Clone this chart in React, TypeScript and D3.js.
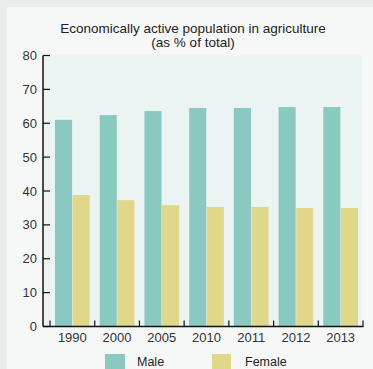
import React from "react";
import * as d3 from "d3";

const categories = ["1990", "2000", "2005", "2010", "2011", "2012", "2013"];
const maleValues = [61.0, 62.4, 63.6, 64.5, 64.5, 64.8, 64.8];
const femaleValues = [38.8, 37.3, 35.8, 35.3, 35.3, 35.0, 35.0];
const yTicks = [0, 10, 20, 30, 40, 50, 60, 70, 80];
const seriesNames = ["Male", "Female"];
const titleLines = ["Economically active population in agriculture", "(as % of total)"];

const W = 373;
const H = 369;
const COLORS = { male: "#89c9bf", female: "#e0d78a" };
const FONT = "'Liberation Sans', Arial, Helvetica, sans-serif";

export default function App() {
  const axisX = 43;
  const x0 = d3.scaleBand<string>().domain(categories).range([50, 363]).paddingInner(0).paddingOuter(0);
  const y = d3.scaleLinear().domain([0, 80]).range([326.5, 55.5]);
  const bw = x0.bandwidth();
  const inner = d3.scaleBand<string>().domain(seriesNames).range([5, bw - 5]).paddingInner(0.03);

  return (
    <svg width={W} height={H} style={{ position: "fixed", left: 0, top: 0, display: "block" }}>
      <rect x={0} y={0} width={W} height={H} fill="#eaeceb" />
      <rect x={7} y={7} width={W - 7} height={H - 7} fill="#f6f8f7" />
      {titleLines.map((t, i) => (
        <text key={i} x={193} y={32.5 + i * 14} textAnchor="middle" fontFamily={FONT} fontSize={13.5} fill="#222">
          {t}
        </text>
      ))}
      <rect x={axisX} y={y(80)} width={362 - axisX} height={y(0) - y(80)} fill="#ebf4f3" />
      {categories.map((c, i) => (
        <g key={c}>
          <rect
            x={(x0(c) as number) + (inner("Male") as number)}
            y={y(maleValues[i])}
            width={inner.bandwidth()}
            height={y(0) - y(maleValues[i])}
            fill={COLORS.male}
          />
          <rect
            x={(x0(c) as number) + (inner("Female") as number)}
            y={y(femaleValues[i])}
            width={inner.bandwidth()}
            height={y(0) - y(femaleValues[i])}
            fill={COLORS.female}
          />
          <text
            x={(x0(c) as number) + bw / 2}
            y={342}
            textAnchor="middle"
            fontFamily={FONT}
            fontSize={13}
            fill="#333"
          >
            {c}
          </text>
        </g>
      ))}
      {/* y axis */}
      <line x1={axisX} x2={axisX} y1={y(80)} y2={y(0)} stroke="#111" strokeWidth={1.5} />
      {yTicks.map((t) => (
        <g key={t}>
          <line x1={axisX} x2={axisX + 7} y1={y(t)} y2={y(t)} stroke="#111" strokeWidth={1.2} />
          <text x={37} y={y(t) + 4.5} textAnchor="end" fontFamily={FONT} fontSize={13} fill="#333">
            {t}
          </text>
        </g>
      ))}
      {/* x axis */}
      <line x1={axisX} x2={363.5} y1={y(0)} y2={y(0)} stroke="#111" strokeWidth={1.5} />
      {[...categories.map((c) => x0(c) as number), 363].map((xv, i) => (
        <line key={i} x1={xv} x2={xv} y1={y(0)} y2={y(0) - 6} stroke="#111" strokeWidth={1.2} />
      ))}
      {/* legend */}
      <rect x={105} y={354} width={20} height={20} fill={COLORS.male} />
      <text x={137} y={366} fontFamily={FONT} fontSize={12.5} fill="#222">
        {seriesNames[0]}
      </text>
      <rect x={212} y={354} width={19} height={20} fill={COLORS.female} />
      <text x={245} y={366} fontFamily={FONT} fontSize={12.5} fill="#222">
        {seriesNames[1]}
      </text>
    </svg>
  );
}
